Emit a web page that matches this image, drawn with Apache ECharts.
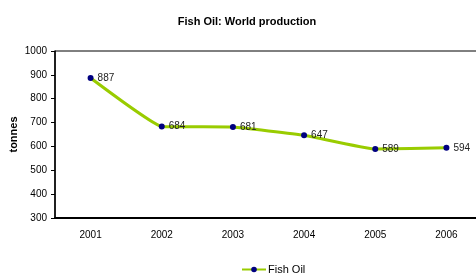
<!DOCTYPE html>
<html>
<head>
<meta charset="utf-8">
<script src="https://cdn.jsdelivr.net/npm/echarts@6/dist/echarts.min.js"></script>
<style>
  html, body { margin: 0; padding: 0; background: #fff; }
  #chart { width: 476px; height: 279px; }
</style>
</head>
<body>
<div id="chart"></div>
<script>
const years = ['2001', '2002', '2003', '2004', '2005', '2006']
const fishOil = [887, 684, 681, 647, 589, 594]

const textStyle = {
  fontFamily: 'Liberation Sans, Arial, sans-serif',
  color: '#000'
}

const chart = echarts.init(document.getElementById('chart'))
chart.setOption({
  animation: false,
  title: {
    text: 'Fish Oil: World production',
    left: 242,
    textAlign: 'center',
    top: 11,
    textStyle: Object.assign({}, textStyle, { fontSize: 11, fontWeight: 'bold' })
  },
  legend: {
    bottom: -1,
    left: 236,
    itemWidth: 24,
    itemHeight: 7,
    itemGap: 2,
    data: ['Fish Oil'],
    textStyle: Object.assign({}, textStyle, { fontSize: 11, padding: [0, 0, 0, -3] })
  },
  grid: {
    left: 55,
    top: 51,
    width: 427,
    height: 167,
    outerBoundsMode: 'none',
    containLabel: false,
    show: true,
    borderColor: '#000',
    borderWidth: 1
  },
  xAxis: {
    type: 'category',
    data: years,
    boundaryGap: true,
    axisLine: { lineStyle: { color: '#000', width: 2 } },
    axisTick: { length: 5, lineStyle: { color: '#000', width: 1.5 } },
    axisLabel: Object.assign({}, textStyle, { fontSize: 10, margin: 12 })
  },
  yAxis: {
    type: 'value',
    min: 300,
    max: 1000,
    interval: 100,
    name: 'tonnes',
    nameLocation: 'middle',
    nameGap: 36,
    nameMoveOverlap: false,
    nameTextStyle: Object.assign({}, textStyle, { fontSize: 11, fontWeight: 'bold' }),
    splitLine: { show: false },
    axisLine: { show: true, lineStyle: { color: '#000', width: 1.5 } },
    axisTick: { show: true, length: 4, lineStyle: { color: '#000' } },
    axisLabel: Object.assign({}, textStyle, {
      fontSize: 10,
      margin: 8,
      formatter: v => String(v)
    })
  },
  series: [
    {
      name: 'Fish Oil',
      type: 'line',
      data: fishOil,
      smooth: 0.1,
      symbol: 'circle',
      symbolSize: 6,
      itemStyle: { color: '#000080' },
      lineStyle: { color: '#99cc00', width: 3 },
      label: {
        show: true,
        position: 'right',
        distance: 4,
        fontSize: 10,
        fontFamily: 'Liberation Sans, Arial, sans-serif',
        color: '#222'
      }
    }
  ]
})
</script>
</body>
</html>
